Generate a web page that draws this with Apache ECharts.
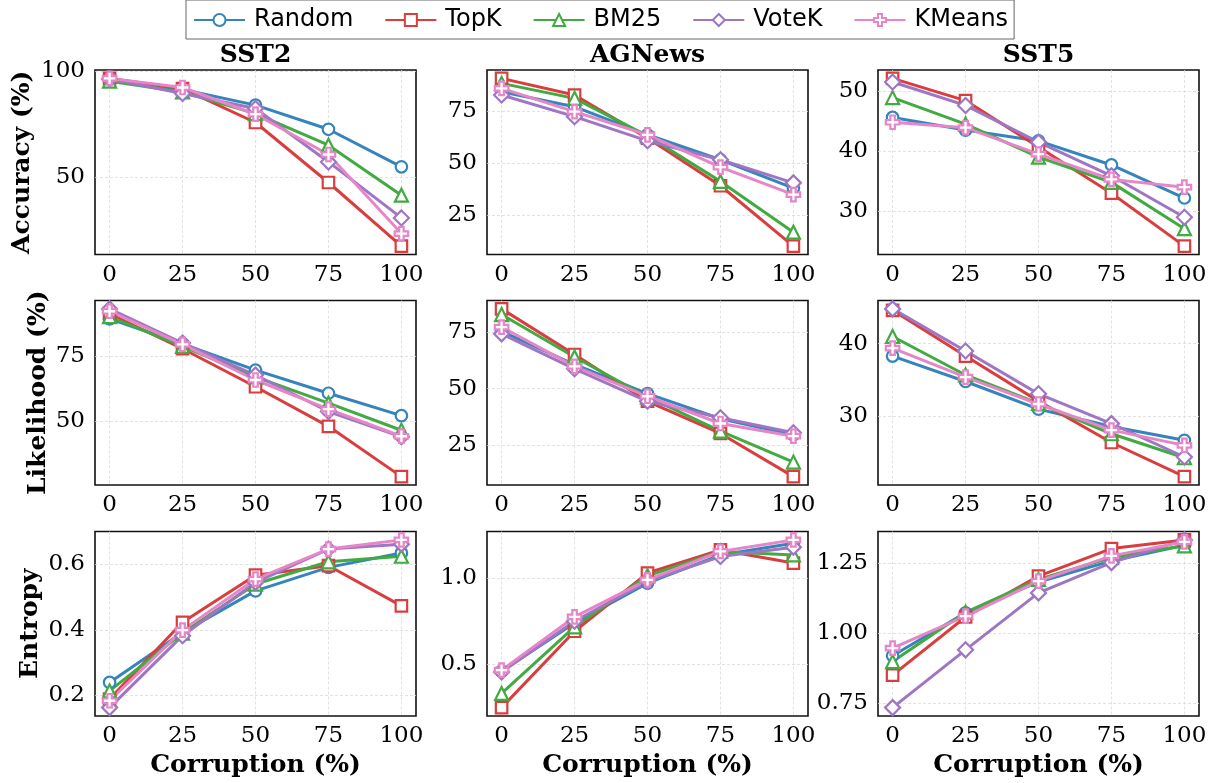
<!DOCTYPE html>
<html>
<head>
<meta charset="utf-8">
<script src="https://cdn.jsdelivr.net/npm/echarts@6/dist/echarts.min.js"></script>
<style>
  html, body { margin: 0; padding: 0; background: #ffffff; }
  #chart { width: 1220px; height: 783px; }
</style>
</head>
<body>
<div id="chart"></div>
<script>
// Corruption levels (x values shared by every panel)
const corruption = [0, 25, 50, 75, 100];
const xTickLabels = ['0', '25', '50', '75', '100'];

const methods = ['Random', 'TopK', 'BM25', 'VoteK', 'KMeans'];
const datasets = ['SST2', 'AGNews', 'SST5'];
const metricNames = ['Accuracy (%)', 'Likelihood (%)', 'Entropy'];

// Accuracy (%) per method
const accuracySST2 = {
  Random: [96.2, 91.4, 84.0, 72.6, 54.9],
  TopK:   [96.6, 91.8, 75.8, 47.5, 17.5],
  BM25:   [95.3, 90.2, 80.0, 65.1, 41.5],
  VoteK:  [96.3, 89.5, 82.4, 57.2, 30.8],
  KMeans: [96.6, 92.3, 79.7, 60.7, 23.4]
};
const accuracyAGNews = {
  Random: [84.3, 77.1, 63.6, 51.6, 38.0],
  TopK:   [90.7, 82.7, 62.0, 39.1, 10.1],
  BM25:   [88.3, 81.1, 63.1, 41.2, 16.8],
  VoteK:  [82.7, 72.3, 60.7, 51.6, 40.5],
  KMeans: [85.9, 74.7, 63.6, 48.1, 34.8]
};
const accuracySST5 = {
  Random: [45.6, 43.5, 41.7, 37.7, 32.2],
  TopK:   [52.1, 48.4, 40.7, 33.0, 24.2],
  BM25:   [48.9, 44.5, 39.0, 34.8, 27.1],
  VoteK:  [51.5, 47.6, 41.5, 35.9, 29.0],
  KMeans: [44.8, 43.9, 39.5, 35.3, 34.0]
};

// Likelihood (%) per method
const likelihoodSST2 = {
  Random: [89.4, 79.8, 69.7, 60.8, 52.2],
  TopK:   [91.3, 77.9, 63.3, 48.1, 28.8],
  BM25:   [90.2, 78.8, 67.1, 57.0, 46.6],
  VoteK:  [93.2, 80.1, 67.8, 53.8, 44.1],
  KMeans: [92.3, 79.6, 65.9, 54.7, 44.3]
};
const likelihoodAGNews = {
  Random: [75.2, 60.6, 47.8, 36.7, 29.6],
  TopK:   [85.1, 65.0, 44.4, 30.2, 11.2],
  BM25:   [82.6, 63.9, 46.3, 31.2, 17.6],
  VoteK:  [74.1, 58.7, 44.4, 37.1, 30.5],
  KMeans: [77.1, 59.8, 46.6, 34.6, 29.0]
};
const likelihoodSST5 = {
  Random: [38.3, 34.8, 31.0, 28.6, 26.7],
  TopK:   [44.6, 38.3, 32.1, 26.4, 21.7],
  BM25:   [41.0, 35.7, 31.8, 27.6, 24.3],
  VoteK:  [44.8, 39.0, 33.1, 29.0, 24.4],
  KMeans: [39.4, 35.4, 31.7, 28.1, 26.0]
};

// Entropy per method
const entropySST2 = {
  Random: [0.239, 0.392, 0.519, 0.591, 0.635],
  TopK:   [0.188, 0.423, 0.567, 0.596, 0.473],
  BM25:   [0.213, 0.390, 0.540, 0.608, 0.625],
  VoteK:  [0.162, 0.382, 0.545, 0.647, 0.662],
  KMeans: [0.183, 0.399, 0.555, 0.647, 0.675]
};
const entropyAGNews = {
  Random: [0.461, 0.740, 0.971, 1.134, 1.202],
  TopK:   [0.250, 0.692, 1.029, 1.163, 1.087],
  BM25:   [0.332, 0.717, 1.013, 1.154, 1.134],
  VoteK:  [0.456, 0.750, 0.981, 1.125, 1.179],
  KMeans: [0.467, 0.775, 0.990, 1.154, 1.221]
};
const entropySST5 = {
  Random: [0.919, 1.072, 1.182, 1.257, 1.313],
  TopK:   [0.850, 1.057, 1.203, 1.301, 1.332],
  BM25:   [0.898, 1.074, 1.191, 1.269, 1.311],
  VoteK:  [0.734, 0.940, 1.143, 1.251, 1.332],
  KMeans: [0.946, 1.060, 1.185, 1.275, 1.325]
};

// Y tick labels per panel (row-major: metric x dataset)
const yTicksAccuracy = [['50', '100'], ['25', '50', '75'], ['30', '40', '50']];
const yTicksLikelihood = [['50', '75'], ['25', '50', '75'], ['30', '40']];
const yTicksEntropy = [['0.2', '0.4', '0.6'], ['0.5', '1.0'], ['0.75', '1.00', '1.25']];

const panelData = [
  [accuracySST2, accuracyAGNews, accuracySST5],
  [likelihoodSST2, likelihoodAGNews, likelihoodSST5],
  [entropySST2, entropyAGNews, entropySST5]
];
const panelTicks = [yTicksAccuracy, yTicksLikelihood, yTicksEntropy];

// Styling
const colors = {
  Random: '#3585bc',
  TopK: '#da3d3d',
  BM25: '#41aa41',
  VoteK: '#9f76c4',
  KMeans: '#e685c8'
};
const plusPath = 'path://M4,0H8V4H12V8H8V12H4V8H0V4H4Z';
const symbols = {
  Random: ['circle', 11.5],
  TopK: ['rect', 11.5],
  BM25: ['triangle', 13],
  VoteK: ['diamond', 15],
  KMeans: [plusPath, 13.5]
};

const serif = '"DejaVu Serif", serif';
const sans = '"DejaVu Sans", sans-serif';
const tickFont = 23;
const labelFont = 25;

const colLeft = [95, 487, 878];
const gridW = 321;
const rowTop = [70, 300.5, 531.5];
const gridH = 184.5;
const yNameGap = [60, 44, 52];

const grids = [], xAxes = [], yAxes = [], series = [], graphics = [];

for (let r = 0; r < 3; r++) {
  for (let c = 0; c < 3; c++) {
    const k = r * 3 + c;
    const data = panelData[r][c];
    const tickLabels = panelTicks[r][c];
    const tickValues = tickLabels.map(Number);

    // 5% padding around the data span
    let lo = Infinity, hi = -Infinity;
    methods.forEach(m => data[m].forEach(v => { lo = Math.min(lo, v); hi = Math.max(hi, v); }));
    const pad = (hi - lo) * 0.05;

    grids.push({
      left: colLeft[c], top: rowTop[r], width: gridW, height: gridH,
      show: true, borderColor: '#111', borderWidth: 1.6, backgroundColor: '#fff'
    });

    xAxes.push({
      type: 'value', gridIndex: k, min: -5, max: 105,
      axisLine: { show: false }, axisTick: { show: false, customValues: corruption },
      axisLabel: {
        customValues: corruption, margin: 9,
        fontFamily: serif, fontSize: tickFont, color: '#000',
        formatter: v => xTickLabels[corruption.indexOf(v)] ?? ''
      },
      splitLine: { show: true, lineStyle: { color: '#dadada', width: 0.8, type: [3, 2] } },
      name: r === 2 ? 'Corruption (%)' : '',
      nameLocation: 'middle', nameGap: 37,
      nameTextStyle: { fontFamily: serif, fontWeight: 'bold', fontSize: labelFont, color: '#000' }
    });

    yAxes.push({
      type: 'value', gridIndex: k, min: lo - pad, max: hi + pad,
      axisLine: { show: false }, axisTick: { show: false, customValues: tickValues },
      axisLabel: {
        customValues: tickValues, margin: 10,
        fontFamily: serif, fontSize: tickFont, color: '#000',
        formatter: v => {
          const i = tickValues.findIndex(t => Math.abs(t - v) < 1e-9);
          return i >= 0 ? tickLabels[i] : '';
        }
      },
      splitLine: { show: true, lineStyle: { color: '#dadada', width: 0.8, type: [3, 2] } },
      name: c === 0 ? metricNames[r] : '',
      nameLocation: 'middle', nameRotate: 90, nameGap: yNameGap[r],
      nameTextStyle: { fontFamily: serif, fontWeight: 'bold', fontSize: labelFont, color: '#000' }
    });

    methods.forEach(m => {
      series.push({
        type: 'line', name: m, xAxisIndex: k, yAxisIndex: k,
        data: corruption.map((x, i) => [x, data[m][i]]),
        color: colors[m],
        symbol: symbols[m][0], symbolSize: symbols[m][1],
        showAllSymbol: true,
        lineStyle: { color: colors[m], width: 3 },
        itemStyle: { color: '#ffffff', borderColor: colors[m], borderWidth: 2.2 },
        emphasis: { disabled: true },
        clip: false,
        animation: false
      });
    });
  }
}

// Column titles, centred over each column of panels
datasets.forEach((d, c) => {
  graphics.push({
    type: 'text', x: colLeft[c] + gridW / 2, y: 55,
    style: {
      text: d, fontFamily: serif, fontWeight: 'bold', fontSize: labelFont,
      fill: '#000', align: 'center', verticalAlign: 'middle',
      textAlign: 'center', textVerticalAlign: 'middle'
    }
  });
});

const option = {
  backgroundColor: '#ffffff',
  animation: false,
  grid: grids,
  xAxis: xAxes,
  yAxis: yAxes,
  series: series,
  graphic: graphics,
  legend: {
    data: methods,
    left: 186, top: 0,
    itemWidth: 51, itemHeight: 15, itemGap: 31,
    padding: [8, 6, 7, 7],
    borderColor: '#666', borderWidth: 1, borderRadius: 0,
    backgroundColor: '#fff',
    textStyle: { fontFamily: sans, fontSize: 24, color: '#000', padding: [0, 0, 0, 4] },
    selectedMode: false
  }
};

const chart = echarts.init(document.getElementById('chart'));
chart.setOption(option);
</script>
</body>
</html>
